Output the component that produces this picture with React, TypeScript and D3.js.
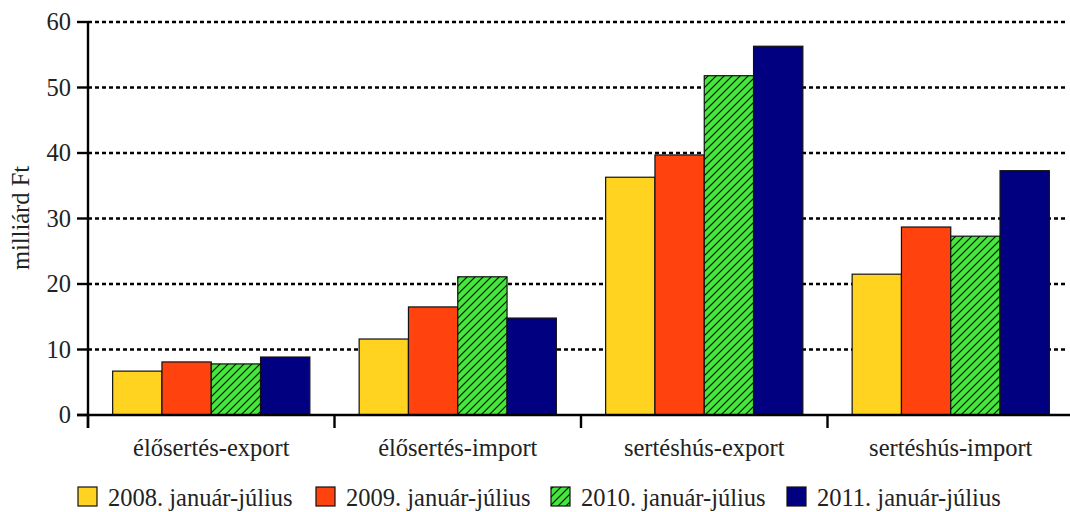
import React from "react";
import * as d3 from "d3";

const categories = ["élősertés-export", "élősertés-import", "sertéshús-export", "sertéshús-import"];
const seriesNames = ["2008. január-július", "2009. január-július", "2010. január-július", "2011. január-július"];
const v2008 = [6.7, 11.6, 36.3, 21.5];
const v2009 = [8.1, 16.5, 39.7, 28.7];
const v2010 = [7.8, 21.1, 51.8, 27.3];
const v2011 = [8.85, 14.8, 56.3, 37.3];
const yTicks = [0, 10, 20, 30, 40, 50, 60];
const colors = ["#FFD320", "#FF420E", "#44E83C", "#000080"];

const W = 1070, H = 512;
const left = 88, right = 1074, top = 22, bottom = 415;
const FONT = "'Liberation Serif', 'Times New Roman', Times, serif";

export default function App() {
  const series = [v2008, v2009, v2010, v2011];
  const x = d3.scaleBand<string>().domain(categories).range([left, right]).paddingInner(0).paddingOuter(0);
  const xi = d3.scaleBand<number>().domain([0, 1, 2, 3]).range([0, x.bandwidth()]).paddingOuter(0.5).paddingInner(0);
  const y = d3.scaleLinear().domain([0, 60]).range([bottom, top]);
  const fillFor = (i: number) => (i === 2 ? "url(#hatch)" : colors[i]);
  const legendX = [78, 316, 551, 787];
  const ts: React.CSSProperties = { fontFamily: FONT, fontSize: 24.5 };

  return (
    <svg width={W} height={H} style={{ position: "absolute", left: 0, top: 0, background: "#fff" }}>
      <defs>
        <pattern id="hatch" patternUnits="userSpaceOnUse" width={8} height={8}>
          <rect width={8} height={8} fill={colors[2]} />
          <path d="M-2,2 L2,-2 M0,8 L8,0 M6,10 L10,6" stroke="#000" strokeWidth={1.1} />
        </pattern>
      </defs>
      {yTicks.filter(t => t > 0).map(t => (
        <line key={t} x1={left} x2={1068} y1={y(t)} y2={y(t)} stroke="#000" strokeWidth={2.6} strokeDasharray="4,3" />
      ))}
      {categories.map((c, ci) => (
        <g key={c}>
          {series.map((s, si) => (
            <rect key={si} x={(x(c) as number) + (xi(si) as number)} y={y(s[ci])} width={xi.bandwidth()}
              height={bottom - y(s[ci])} fill={fillFor(si)} stroke="#111" strokeWidth={1.2} />
          ))}
        </g>
      ))}
      <line x1={left} x2={left} y1={top - 1} y2={bottom + 13} stroke="#000" strokeWidth={2.4} />
      <line x1={left - 11} x2={W} y1={bottom} y2={bottom} stroke="#000" strokeWidth={2.4} />
      {yTicks.map(t => (
        <g key={t}>
          <line x1={left - 11} x2={left} y1={y(t)} y2={y(t)} stroke="#000" strokeWidth={2.4} />
          <text x={71} y={y(t)} dy="0.33em" textAnchor="end" style={ts} fill="#222">{t}</text>
        </g>
      ))}
      {categories.map((c, ci) => (
        <line key={"t" + ci} x1={x(c) as number} x2={x(c) as number} y1={bottom} y2={bottom + 13} stroke="#000" strokeWidth={2.4} />
      ))}
      {categories.map(c => (
        <text key={"l" + c} x={(x(c) as number) + x.bandwidth() / 2} y={456} textAnchor="middle" style={ts} fill="#222">{c}</text>
      ))}
      <text transform={`translate(29,218) rotate(-90)`} textAnchor="middle" style={ts} fill="#222">milliárd Ft</text>
      {seriesNames.map((n, i) => (
        <g key={n}>
          <rect x={legendX[i]} y={487} width={19} height={19} fill={fillFor(i)} stroke="#111" strokeWidth={1.2} />
          <text x={legendX[i] + 30} y={497} dy="0.35em" style={ts} fill="#222">{n}</text>
        </g>
      ))}
    </svg>
  );
}
